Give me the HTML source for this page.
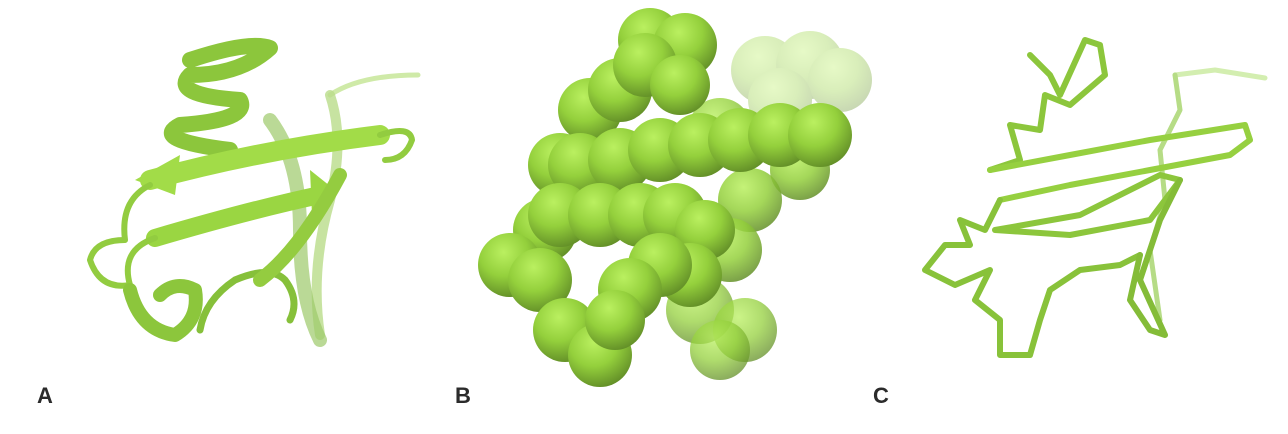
<!DOCTYPE html>
<html><head><meta charset="utf-8"><style>
html,body{margin:0;padding:0;background:#fff;}
svg{display:block;}
text{font-family:"Liberation Sans",sans-serif;font-weight:bold;font-size:22px;fill:#2b2b2b;}
</style></head><body>
<svg width="1288" height="434" viewBox="0 0 1288 434">
<defs>
<radialGradient id="sph" cx="0.4" cy="0.3" r="0.75">
<stop offset="0" stop-color="#baf060"/><stop offset="0.5" stop-color="#94d03c"/><stop offset="1" stop-color="#5f8a26"/>
</radialGradient>
</defs>
<g fill="none" stroke-linecap="round" stroke-linejoin="round">
<path d="M330,95 Q360,75 418,75" stroke="#cfeaa8" stroke-width="5"/>
<path d="M330,95 Q345,140 330,200 Q310,270 320,335" stroke="#b9dc8a" stroke-width="10" opacity="0.8"/>
<path d="M270,120 Q300,160 300,230 Q300,300 320,340" stroke="#9cc96a" stroke-width="14" opacity="0.7"/>
<path d="M190,60 Q250,40 270,48 Q240,75 190,75 Q170,95 240,100 Q250,120 180,125 Q150,140 230,150" stroke="#8cc63c" stroke-width="16"/>
<path d="M150,180 Q260,150 380,135" stroke="#a2dc48" stroke-width="20"/>
<polygon points="135,180 180,155 175,195" fill="#a2dc48"/>
<path d="M380,135 Q410,125 412,140 Q405,160 385,160" stroke="#92cc40" stroke-width="6"/>
<path d="M155,238 Q250,210 320,195" stroke="#9ad642" stroke-width="18"/>
<polygon points="335,190 310,170 312,215" fill="#9ad642"/>
<path d="M150,185 Q120,200 125,240 Q95,240 90,260 Q100,290 130,285 Q120,250 155,238" stroke="#92cc40" stroke-width="6"/>
<path d="M130,290 Q140,330 175,335 Q200,320 195,290 Q175,280 160,295" stroke="#8cc63c" stroke-width="14"/>
<path d="M200,330 Q205,300 235,280 Q270,265 285,280 Q300,300 290,320" stroke="#86c03a" stroke-width="7"/>
<path d="M260,280 Q300,250 340,175" stroke="#94cc40" stroke-width="14"/>
</g>
<g>
<g opacity="0.35">
<circle cx="765" cy="70" r="34" fill="url(#sph)"/><circle cx="810" cy="65" r="34" fill="url(#sph)"/><circle cx="840" cy="80" r="32" fill="url(#sph)"/><circle cx="780" cy="100" r="32" fill="url(#sph)"/>
</g>
<circle cx="720" cy="130" r="32" fill="url(#sph)" opacity="0.8"/>
<circle cx="700" cy="310" r="34" fill="url(#sph)" opacity="0.75"/><circle cx="745" cy="330" r="32" fill="url(#sph)" opacity="0.75"/><circle cx="720" cy="350" r="30" fill="url(#sph)" opacity="0.75"/>
<circle cx="590" cy="110" r="32" fill="url(#sph)"/><circle cx="620" cy="90" r="32" fill="url(#sph)"/>
<circle cx="650" cy="40" r="32" fill="url(#sph)"/><circle cx="685" cy="45" r="32" fill="url(#sph)"/><circle cx="645" cy="65" r="32" fill="url(#sph)"/><circle cx="680" cy="85" r="30" fill="url(#sph)"/>
<circle cx="560" cy="165" r="32" fill="url(#sph)"/><circle cx="545" cy="230" r="32" fill="url(#sph)"/>
<circle cx="510" cy="265" r="32" fill="url(#sph)"/><circle cx="540" cy="280" r="32" fill="url(#sph)"/>
<circle cx="565" cy="330" r="32" fill="url(#sph)"/><circle cx="600" cy="355" r="32" fill="url(#sph)"/>
<circle cx="800" cy="170" r="30" fill="url(#sph)" opacity="0.85"/><circle cx="750" cy="200" r="32" fill="url(#sph)" opacity="0.85"/><circle cx="730" cy="250" r="32" fill="url(#sph)" opacity="0.85"/>
<circle cx="580" cy="165" r="32" fill="url(#sph)"/><circle cx="620" cy="160" r="32" fill="url(#sph)"/><circle cx="660" cy="150" r="32" fill="url(#sph)"/><circle cx="700" cy="145" r="32" fill="url(#sph)"/><circle cx="740" cy="140" r="32" fill="url(#sph)"/><circle cx="780" cy="135" r="32" fill="url(#sph)"/><circle cx="820" cy="135" r="32" fill="url(#sph)"/>
<circle cx="560" cy="215" r="32" fill="url(#sph)"/><circle cx="600" cy="215" r="32" fill="url(#sph)"/><circle cx="640" cy="215" r="32" fill="url(#sph)"/><circle cx="675" cy="215" r="32" fill="url(#sph)"/><circle cx="705" cy="230" r="30" fill="url(#sph)"/>
<circle cx="690" cy="275" r="32" fill="url(#sph)"/><circle cx="660" cy="265" r="32" fill="url(#sph)"/><circle cx="630" cy="290" r="32" fill="url(#sph)"/><circle cx="615" cy="320" r="30" fill="url(#sph)"/>
</g>
<g fill="none" stroke-linecap="round" stroke-linejoin="round">
<polyline points="1175,75 1215,70 1265,78" stroke="#d3eeb0" stroke-width="5"/>
<polyline points="1175,75 1180,110 1160,150 1165,200 1150,250 1160,320" stroke="#b6dc86" stroke-width="5"/>
<polyline points="1030,55 1050,75 1060,95 1085,40 1100,45 1105,75 1070,105 1045,95 1040,130 1010,125 1020,160 990,170" stroke="#8cc63c" stroke-width="6"/>
<polyline points="990,170 1070,155 1150,140 1245,125 1250,140 1230,155 1150,170 1070,185 1000,200" stroke="#96d040" stroke-width="6"/>
<polyline points="995,230 1080,215 1160,175 1180,180 1150,220 1070,235 995,230" stroke="#8cc63c" stroke-width="6"/>
<polyline points="1000,200 985,230 960,220 970,245 945,245 925,270 955,285 990,270 975,300 1000,320 1000,355 1030,355 1040,320 1050,290 1080,270 1120,265 1140,255" stroke="#88c23a" stroke-width="6"/>
<polyline points="1140,255 1130,300 1150,330 1165,335 1140,280 1160,220 1180,180" stroke="#84bc38" stroke-width="6"/>
</g>
<text x="37" y="403">A</text>
<text x="455" y="403">B</text>
<text x="873" y="403">C</text>
</svg>
</body></html>
